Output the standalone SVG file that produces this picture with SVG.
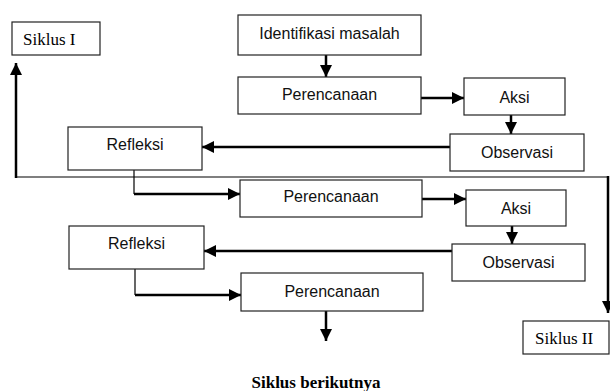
<svg xmlns="http://www.w3.org/2000/svg" width="610" height="391" viewBox="0 0 610 391">
<style>
.box{fill:#fff;stroke:#222;stroke-width:1.2}
.t{font-family:"Liberation Sans",Arial,sans-serif;font-size:16px;fill:#111;text-anchor:middle}
.s{font-family:"Liberation Serif","Times New Roman",serif;font-size:17px;fill:#000}
.a{fill:none;stroke:#000;stroke-width:2.5}
.thin{fill:none;stroke:#000;stroke-width:1.2}
</style>
<defs>
<marker id="ah" markerUnits="userSpaceOnUse" markerWidth="12" markerHeight="12" viewBox="0 0 12 12" refX="12" refY="6" orient="auto">
<path d="M0,0 L12,6 L0,12 Z" fill="#000"/>
</marker>
</defs>
<rect width="610" height="391" fill="#fff"/>
<g id="connectors">
<path class="a" d="M326,55 V77" marker-end="url(#ah)"/>
<path class="a" d="M421,98 H464" marker-end="url(#ah)"/>
<path class="a" d="M511,115 V134" marker-end="url(#ah)"/>
<path class="a" d="M450,147 H202" marker-end="url(#ah)"/>
<path class="thin" d="M134,170 V194"/>
<path class="a" d="M134,194 H240" marker-end="url(#ah)"/>
<path class="a" d="M422,199 H466" marker-end="url(#ah)"/>
<path class="a" d="M512,226 V244" marker-end="url(#ah)"/>
<path class="a" d="M452,251 H204" marker-end="url(#ah)"/>
<path class="thin" d="M135,269 V295"/>
<path class="a" d="M135,295 H241" marker-end="url(#ah)"/>
<path class="a" d="M326,311 V341" marker-end="url(#ah)"/>
<path class="thin" d="M16,177 H608"/>
<path class="a" d="M16,178 V63" marker-end="url(#ah)"/>
<path class="a" d="M608,176 V313" marker-end="url(#ah)"/>
</g>
<g id="siklus1"><rect class="box" x="12" y="22" width="88" height="33"/><text class="s" x="23" y="45">Siklus I</text></g>
<g id="identifikasi"><rect class="box" x="238" y="15" width="183" height="40"/><text class="t" x="329.5" y="39">Identifikasi masalah</text></g>
<g id="perencanaan1"><rect class="box" x="238" y="77" width="183" height="37"/><text class="t" x="329.5" y="100">Perencanaan</text></g>
<g id="aksi1"><rect class="box" x="464" y="78" width="101" height="37"/><text class="t" x="514.5" y="103">Aksi</text></g>
<g id="observasi1"><rect class="box" x="450" y="134" width="134" height="37"/><text class="t" x="517" y="158">Observasi</text></g>
<g id="refleksi1"><rect class="box" x="68" y="127" width="134" height="43"/><text class="t" x="135" y="150">Refleksi</text></g>
<g id="perencanaan2"><rect class="box" x="240" y="180" width="182" height="37"/><text class="t" x="331" y="202">Perencanaan</text></g>
<g id="aksi2"><rect class="box" x="466" y="190" width="100" height="36"/><text class="t" x="516" y="214">Aksi</text></g>
<g id="observasi2"><rect class="box" x="452" y="244" width="133" height="37"/><text class="t" x="518.5" y="268">Observasi</text></g>
<g id="refleksi2"><rect class="box" x="69" y="226" width="135" height="43"/><text class="t" x="136.5" y="249">Refleksi</text></g>
<g id="perencanaan3"><rect class="box" x="241" y="273" width="182" height="38"/><text class="t" x="332" y="297">Perencanaan</text></g>
<g id="siklus2"><rect class="box" x="523" y="321" width="86" height="33"/><text class="s" x="535" y="344">Siklus II</text></g>
<g id="siklus-berikutnya"><text class="s" x="316" y="388" text-anchor="middle" font-weight="bold">Siklus berikutnya</text></g>
</svg>
